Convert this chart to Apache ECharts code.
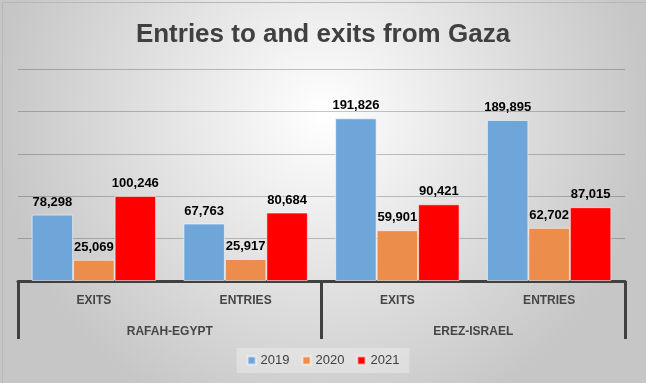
<!DOCTYPE html>
<html><head><meta charset="utf-8">
<script src="https://cdn.jsdelivr.net/npm/echarts@6/dist/echarts.min.js"></script>
<style>html,body{margin:0;padding:0;}#c{width:646px;height:383px;}</style>
</head><body><div id="c"></div>
<script>
const subCategories = ['EXITS', 'ENTRIES', 'EXITS', 'ENTRIES'];
const groups = ['RAFAH-EGYPT', 'EREZ-ISRAEL'];
const years = ['2019', '2020', '2021'];
const v2019 = [78298, 67763, 191826, 189895];
const v2020 = [25069, 25917, 59901, 62702];
const v2021 = [100246, 80684, 90421, 87015];
const colors = ['#6fa6da', '#ec8d4c', '#ff0000'];

const font = 'Liberation Sans';
const chart = echarts.init(document.getElementById('c'), null, {renderer: 'canvas'});
const mk = (name, data, color) => ({
  name, type: 'bar', data, xAxisIndex: 0,
  barGap: '0%', barCategoryGap: '18%',
  itemStyle: {color, borderColor: 'rgba(255,255,255,0.55)', borderWidth: 1},
  label: {show: true, position: 'top', distance: 6, fontFamily: font, fontSize: 13, fontWeight: 'bold', color: '#000',
    formatter: p => p.value.toLocaleString('en-US')}
});
chart.setOption({
  backgroundColor: {type: 'radial', x: 0.5, y: 0.3, r: 0.85,
    colorStops: [{offset: 0, color: '#ffffff'}, {offset: 1, color: '#c6c6c6'}]},
  graphic: [{type: 'rect', left: 0, top: 0, shape: {x: 0.5, y: 0.5, width: 645, height: 382},
    style: {fill: 'none', stroke: '#b8b8b8', lineWidth: 1}, silent: true}],
  title: {text: 'Entries to and exits from Gaza', left: 'center', top: 17,
    textStyle: {fontFamily: font, fontSize: 26, fontWeight: 'bold', color: '#404040'}},
  grid: {left: 18, right: 21, top: 69, bottom: 102, containLabel: false},
  legend: {data: years, bottom: 10, left: 'center', icon: 'rect', itemWidth: 8, itemHeight: 8, itemGap: 12,
    backgroundColor: 'rgba(255,255,255,0.3)', padding: [6, 10],
    textStyle: {fontFamily: font, fontSize: 13, color: '#404040'}},
  xAxis: [
    {type: 'category', data: subCategories, position: 'bottom',
      axisLine: {lineStyle: {color: '#404040', width: 3}},
      axisTick: {show: false},
      axisLabel: {margin: 14, fontFamily: font, fontSize: 12, fontWeight: 'bold', color: '#454545'}},
    {type: 'category', data: groups, position: 'bottom',
      axisLine: {show: false},
      axisTick: {show: true, length: 58, lineStyle: {color: '#404040', width: 3}},
      axisLabel: {margin: 45, fontFamily: font, fontSize: 12, fontWeight: 'bold', color: '#454545'}}
  ],
  yAxis: {type: 'value', min: 0, max: 250000, interval: 50000,
    axisLabel: {show: false}, axisLine: {show: false}, axisTick: {show: false},
    splitLine: {lineStyle: {color: 'rgba(0,0,0,0.22)', width: 1}}},
  series: [mk(years[0], v2019, colors[0]), mk(years[1], v2020, colors[1]), mk(years[2], v2021, colors[2])]
});
</script></body></html>
